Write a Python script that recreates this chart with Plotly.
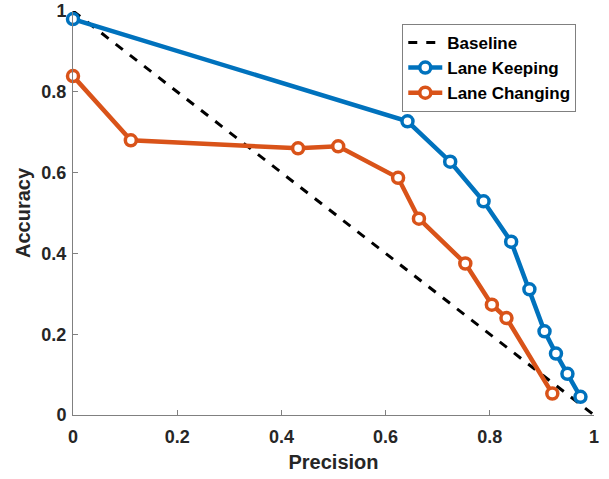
import plotly.graph_objects as go

# Precision / accuracy trade-off for the two manoeuvre classifiers
baseline_x = [0.0, 1.0]
baseline_y = [1.0, 0.0]

keep_precision = [0.0, 0.642, 0.724, 0.788, 0.841, 0.876, 0.905, 0.927, 0.949, 0.974]
keep_accuracy = [0.980, 0.727, 0.627, 0.529, 0.429, 0.311, 0.207, 0.152, 0.102, 0.045]

change_precision = [0.0, 0.111, 0.432, 0.509, 0.624, 0.664, 0.753, 0.804, 0.832, 0.920]
change_accuracy = [0.839, 0.680, 0.660, 0.665, 0.587, 0.486, 0.375, 0.273, 0.240, 0.053]

tick_vals = [0, 0.2, 0.4, 0.6, 0.8, 1]
tick_text = ["0", "0.2", "0.4", "0.6", "0.8", "1"]

BLUE = "#0072BD"
ORANGE = "#D95319"
FONT = "Liberation Sans, Arial, sans-serif"

fig = go.Figure()

fig.add_trace(go.Scatter(
    x=baseline_x, y=baseline_y, mode="lines", name="<b>Baseline</b>",
    line=dict(color="black", width=3, dash="dash"), cliponaxis=False,
))
fig.add_trace(go.Scatter(
    x=keep_precision, y=keep_accuracy, mode="lines+markers", name="<b>Lane Keeping</b>",
    line=dict(color=BLUE, width=4.5),
    marker=dict(symbol="circle", size=11, color="white", line=dict(color=BLUE, width=3.5)),
    cliponaxis=False,
))
fig.add_trace(go.Scatter(
    x=change_precision, y=change_accuracy, mode="lines+markers", name="<b>Lane Changing</b>",
    line=dict(color=ORANGE, width=4.5),
    marker=dict(symbol="circle", size=11, color="white", line=dict(color=ORANGE, width=3.5)),
    cliponaxis=False,
))

axis_common = dict(
    range=[0, 1], tickvals=tick_vals, ticktext=[f"<b>{t}</b>" for t in tick_text],
    showgrid=False, zeroline=False, showline=True, linecolor="#808080", linewidth=1,
    ticks="inside", ticklen=5, tickcolor="#808080", mirror=False, automargin=False,
    tickfont=dict(family=FONT, size=18, color="#262626"),
)

fig.update_layout(
    width=609, height=479,
    margin=dict(l=73, r=15, t=11, b=64),
    paper_bgcolor="white", plot_bgcolor="white",
    font=dict(family=FONT, color="#262626"),
    xaxis=dict(**axis_common, ticklabelstandoff=5,
               title=dict(text="<b>Precision</b>", font=dict(family=FONT, size=20, color="#262626"), standoff=9)),
    yaxis=dict(**axis_common, ticklabelstandoff=2,
               title=dict(text="<b>Accuracy</b>", font=dict(family=FONT, size=20, color="#262626"), standoff=5)),
    legend=dict(
        x=0.632, y=0.968, xanchor="left", yanchor="top",
        bgcolor="white", bordercolor="#808080", borderwidth=1,
        font=dict(family=FONT, size=17, color="black"),
        tracegroupgap=0, itemwidth=34,
    ),
    showlegend=True,
)

fig.write_html("out.html")
